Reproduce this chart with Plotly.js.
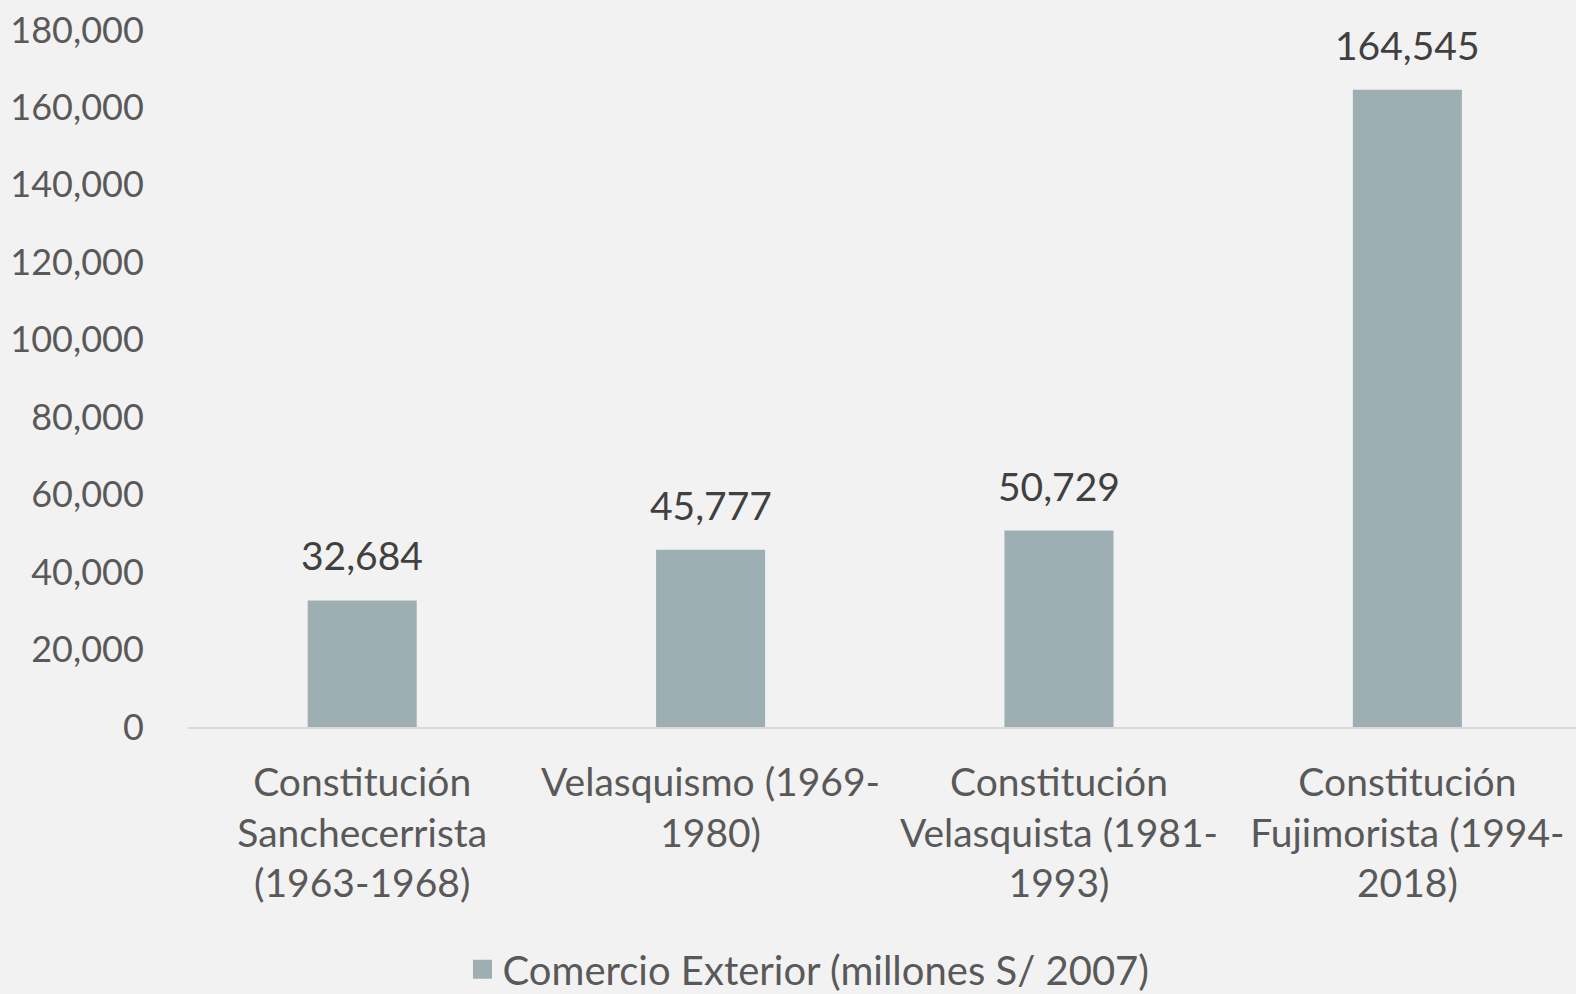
<!DOCTYPE html>
<html>
<head>
<meta charset="utf-8">
<script src="https://cdn.plot.ly/plotly-3.0.1.min.js"></script>
<style>html,body{margin:0;padding:0;background:#f2f2f2;}#chart{width:1576px;height:994px;}</style>
</head>
<body>
<div id="chart"></div>
<script>
const categories = [
  "Constitución<br>Sanchecerrista<br>(1963-1968)",
  "Velasquismo (1969-<br>1980)",
  "Constitución<br>Velasquista (1981-<br>1993)",
  "Constitución<br>Fujimorista (1994-<br>2018)"
];
const values = [32684, 45777, 50729, 164545];
const seriesName = "Comercio Exterior (millones S/ 2007)";
const yTicks = [0, 20000, 40000, 60000, 80000, 100000, 120000, 140000, 160000, 180000];

const font = "Lato, 'Open Sans', sans-serif";
const barColor = '#9eafb4';

const trace = {
  type: 'bar',
  x: categories,
  y: values,
  name: seriesName,
  marker: {color: barColor},
  showlegend: false,
  hoverinfo: 'skip'
};

// legend-only entry with a larger square swatch
const legendTrace = {
  type: 'scatter', mode: 'markers',
  x: [null], y: [null],
  name: seriesName,
  marker: {symbol: 'square', size: 16, color: barColor, line: {color: barColor, width: 3}},
  showlegend: true,
  hoverinfo: 'skip'
};

const annotations = values.map((v, i) => ({
  x: categories[i], y: v, xref: 'x', yref: 'y',
  text: v.toLocaleString('en-US'),
  showarrow: false, yanchor: 'bottom', yshift: 20,
  font: {family: font, size: 39, color: '#404040'}
}));

const layout = {
  width: 1576, height: 994,
  paper_bgcolor: '#f2f2f2', plot_bgcolor: '#f2f2f2',
  margin: {l: 188, r: 0, t: 30, b: 267},
  font: {family: font, size: 36, color: '#595959'},
  bargap: 0.687,
  xaxis: {
    range: [-0.5, 3.484],
    showline: true, linecolor: '#d9d9d9', linewidth: 2,
    ticks: 'outside', ticklen: 20, tickcolor: 'rgba(0,0,0,0)',
    showgrid: false, zeroline: false,
    tickfont: {family: font, size: 39, color: '#595959'}
  },
  yaxis: {
    range: [0, 180000], tickvals: yTicks, tickformat: ',d',
    showgrid: false, zeroline: false, showline: false,
    ticks: 'outside', ticklen: 36, tickcolor: 'rgba(0,0,0,0)',
    tickfont: {family: font, size: 36, color: '#595959'}
  },
  showlegend: true,
  legend: {
    orientation: 'h', xref: 'container', yref: 'container',
    x: 0.513, xanchor: 'center', y: 0.025, yanchor: 'middle',
    font: {family: font, size: 40, color: '#595959'},
    bgcolor: 'rgba(0,0,0,0)', itemwidth: 30
  },
  annotations: annotations
};

Plotly.newPlot('chart', [trace, legendTrace], layout, {displayModeBar: false, staticPlot: true});
</script>
</body>
</html>
